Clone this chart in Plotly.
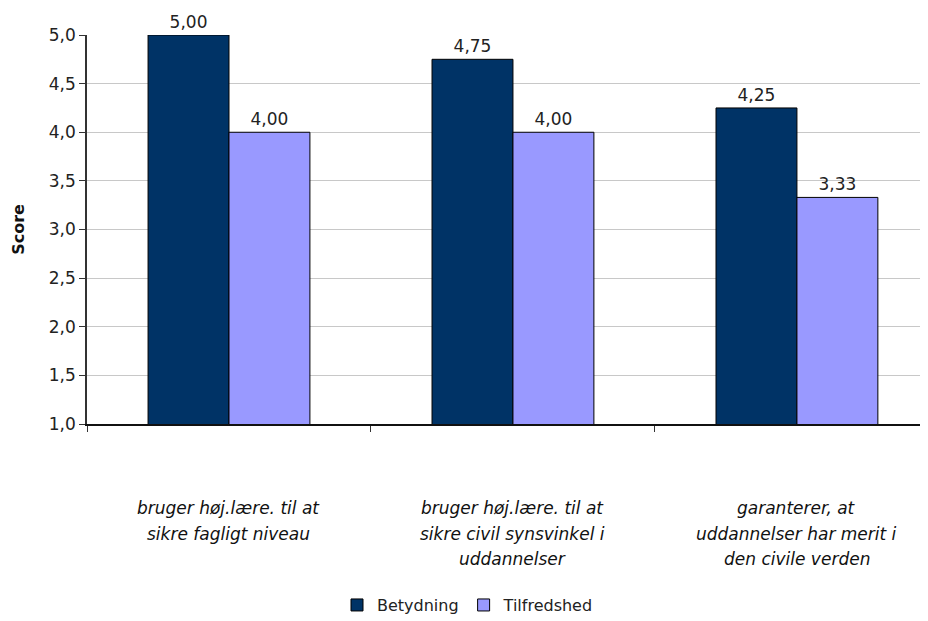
import plotly.graph_objects as go

# data
categories = ['cat1', 'cat2', 'cat3']
category_lines = [
    ['bruger høj.lære. til at', 'sikre fagligt niveau'],
    ['bruger høj.lære. til at', 'sikre civil synsvinkel i', 'uddannelser'],
    ['garanterer, at', 'uddannelser har merit i', 'den civile verden'],
]
betydning = [5.00, 4.75, 4.25]
tilfredshed = [4.00, 4.00, 3.33]
y_ticks = [1.0, 1.5, 2.0, 2.5, 3.0, 3.5, 4.0, 4.5, 5.0]

FONT = "DejaVu Sans"


def fmt(v, d):
    return f"{v:.{d}f}".replace('.', ',')


fig = go.Figure()
fig.add_trace(go.Bar(
    x=categories, y=betydning, name='Betydning',
    marker=dict(color='#003366', line=dict(color='black', width=1)),
    text=[fmt(v, 2) for v in betydning], textposition='outside',
    textfont=dict(family=FONT, size=17, color='#222'),
    cliponaxis=False,
))
fig.add_trace(go.Bar(
    x=categories, y=tilfredshed, name='Tilfredshed',
    marker=dict(color='#9999FF', line=dict(color='black', width=1)),
    text=[fmt(v, 2) for v in tilfredshed], textposition='outside',
    textfont=dict(family=FONT, size=17, color='#222'),
    cliponaxis=False,
))

# page body has an 8px margin, so the figure is a bit smaller than the window
fig.update_layout(
    width=920, height=613,
    barmode='group', bargap=0.43, bargroupgap=0,
    plot_bgcolor='white', paper_bgcolor='white',
    font=dict(family=FONT, size=17, color='#222'),
    margin=dict(l=79, r=1, t=27, b=197, autoexpand=False),
    showlegend=True,
    legend=dict(orientation='h', xref='container', yref='container',
                x=0.5, xanchor='center', y=0.026, yanchor='middle',
                font=dict(family=FONT, size=16, color='#222'),
                itemwidth=30, tracegroupgap=0),
    xaxis=dict(
        range=[-0.5, 2.458],
        showticklabels=False,
        tickson='boundaries', ticks='outside', ticklen=6, tickcolor='#333',
        showline=True, linecolor='#111', linewidth=2,
        showgrid=False,
    ),
    yaxis=dict(
        range=[1, 5],
        tickvals=y_ticks,
        ticktext=[fmt(v, 1) for v in y_ticks],
        ticks='outside', ticklen=6, tickcolor='#333',
        showline=True, linecolor='#333', linewidth=1.5,
        gridcolor='#c8c8c8', gridwidth=1,
        zeroline=False,
        title=dict(text='<b>Score</b>', font=dict(family=FONT, size=16, color='#111'),
                   standoff=20),
    ),
)

# category labels, one annotation per line for the wider line spacing
for cat, lines in zip(categories, category_lines):
    for i, line in enumerate(lines):
        fig.add_annotation(
            x=cat, xref='x', y=0, yref='paper',
            text=f"<i>{line}</i>", showarrow=False,
            yanchor='middle', yshift=-(84 + i * 25.5),
            font=dict(family=FONT, size=17, color='#111'),
        )

fig.write_html("out.html")
